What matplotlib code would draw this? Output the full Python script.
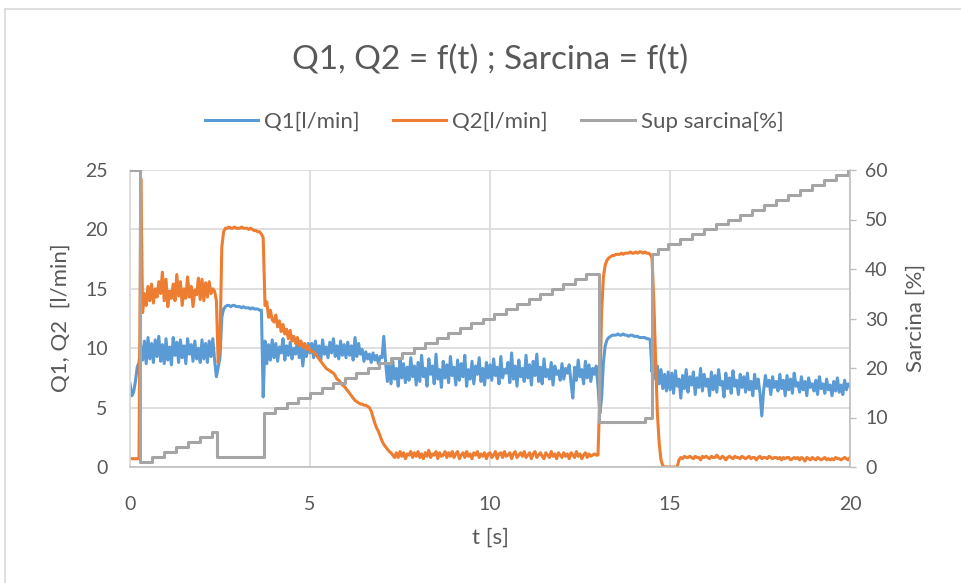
import numpy as np
import matplotlib as mpl
mpl.use("Agg")
import matplotlib.pyplot as plt
from matplotlib.lines import Line2D

mpl.rcParams.update({
    "font.family": ["Lato", "DejaVu Sans"],
    "font.size": 14,
    "text.color": "#595959",
    "axes.labelcolor": "#595959",
})

W, H = 961, 583

# --- data ----------------------------------------------------------------
# time grid of the flow signals: 0 .. 20 s, one sample every 0.05 s
t = np.linspace(0, 20, 401)

# Q1 [l/min], one row per second (20 samples)
q1 = [
    7.0, 6.0, 6.3, 7.2, 8.4, 8.8, 10.2, 9.0, 10.6, 8.7, 10.9, 9.1, 10.4, 8.8, 10.7, 9.3, 11.0, 8.9, 10.3, 8.7,
    10.8, 9.0, 10.1, 8.6, 10.9, 9.4, 10.5, 8.8, 10.7, 9.2, 10.2, 8.7, 10.8, 9.5, 10.3, 8.9, 10.6, 9.1, 10.0, 8.8,
    10.7, 9.1, 10.4, 8.8, 10.6, 9.3, 10.8, 9.0, 7.6, 8.4, 9.2, 12.6, 13.3, 13.5, 13.6, 13.6, 13.5, 13.6, 13.6, 13.5,
    13.5, 13.5, 13.4, 13.5, 13.4, 13.4, 13.4, 13.3, 13.4, 13.3, 13.3, 13.3, 13.2, 13.2, 5.9, 10.6, 8.7, 10.3, 9.0, 10.7,
    9.2, 10.4, 8.9, 10.1, 9.6, 10.8, 9.0, 10.2, 9.4, 10.5, 9.1, 10.0, 9.5, 10.6, 9.2, 10.3, 8.5, 10.1, 9.3, 10.4,
    9.6, 10.4, 9.2, 10.6, 9.4, 10.2, 9.0, 10.7, 9.5, 10.1, 9.2, 10.5, 9.6, 10.8, 9.3, 10.2, 9.1, 10.6, 9.4, 10.3,
    9.2, 10.5, 9.4, 10.2, 9.0, 10.9, 9.3, 10.4, 9.5, 9.9, 8.9, 9.7, 9.1, 9.5, 8.8, 9.6, 9.0, 9.4, 8.7, 9.3,
    9.2, 11.0, 8.8, 7.2, 8.6, 7.0, 8.9, 7.4, 8.3, 6.8, 9.0, 7.5, 8.7, 7.1, 8.4, 7.3, 9.2, 7.6, 8.5, 6.9,
    8.8, 7.2, 9.4, 7.6, 8.3, 6.8, 9.1, 7.8, 8.5, 7.0, 9.5, 7.4, 8.2, 6.7, 8.9, 7.5, 8.6, 7.1, 9.3, 7.7,
    8.4, 6.9, 9.0, 7.3, 8.7, 7.6, 9.4, 6.8, 8.2, 7.4, 8.9, 7.0, 8.5, 7.8, 9.2, 7.2, 8.3, 6.9, 8.8, 7.5,
    8.6, 7.3, 9.1, 7.7, 8.4, 7.0, 9.3, 7.5, 8.2, 7.9, 8.8, 7.1, 9.6, 7.4, 8.5, 6.8, 9.0, 7.6, 8.3, 7.2,
    9.4, 7.5, 8.6, 6.9, 8.9, 7.7, 9.5, 7.2, 8.4, 7.0, 9.1, 7.6, 8.2, 7.4, 8.8, 6.9, 8.5, 7.8, 8.1, 7.3,
    8.7, 7.4, 8.3, 7.9, 8.6, 7.1, 5.8, 8.4, 7.3, 9.0, 7.6, 8.2, 7.0, 8.9, 7.5, 8.6, 7.2, 8.3, 7.8, 8.5,
    6.8, 4.5, 5.8, 8.8, 10.2, 10.7, 10.9, 11.0, 11.1, 11.1, 11.1, 11.2, 11.1, 11.1, 11.2, 11.1, 11.1, 11.0, 11.1, 11.1,
    11.0, 11.0, 11.0, 10.9, 10.9, 10.9, 10.9, 10.8, 10.8, 10.7, 8.0, 9.8, 7.4, 8.5, 7.0, 8.2, 6.6, 7.8, 6.4, 8.0,
    6.5, 7.9, 6.2, 8.1, 6.8, 7.4, 5.8, 7.7, 6.6, 8.2, 6.3, 7.6, 6.9, 8.0, 6.1, 7.5, 6.7, 8.3, 6.4, 7.8,
    6.8, 7.4, 6.0, 8.0, 6.5, 7.7, 6.3, 8.2, 6.9, 7.2, 5.9, 7.9, 6.6, 7.5, 6.2, 8.1, 6.8, 7.3, 6.1, 7.8,
    6.7, 7.6, 6.3, 7.9, 6.5, 7.2, 6.0, 7.8, 6.6, 7.4, 6.2, 4.3, 6.4, 7.7, 6.8, 7.3, 6.1, 7.6, 6.7, 7.2,
    6.4, 7.8, 6.6, 7.3, 6.0, 7.7, 6.5, 7.4, 6.2, 7.9, 6.8, 7.1, 6.3, 7.6, 6.5, 7.2, 6.0, 7.5, 6.7, 7.0,
    6.4, 7.3, 6.1, 7.6, 6.6, 7.0, 6.2, 7.4, 6.5, 6.9, 6.0, 7.2, 6.4, 7.5, 6.3, 6.9, 6.1, 7.3, 6.5, 7.0,
    6.8,
]

# Q2 [l/min], same grid
q2 = [
    0.7, 0.7, 0.7, 0.7, 0.7, 0.7, 24.3, 13.0, 14.6, 13.6, 15.2, 14.0, 15.4, 13.8, 15.0, 14.3, 15.6, 14.6, 16.4, 14.0,
    15.8, 13.5, 14.8, 14.2, 15.4, 14.0, 16.2, 14.4, 15.6, 13.6, 15.0, 14.2, 16.0, 14.3, 15.2, 13.5, 14.9, 14.5, 15.9, 14.1,
    15.8, 14.0, 15.5, 14.3, 15.6, 14.6, 15.0, 14.8, 14.0, 8.8, 10.5, 18.5, 19.8, 20.1, 20.1, 20.2, 20.1, 20.1, 20.2, 20.1,
    20.1, 20.1, 20.2, 20.1, 20.1, 20.1, 20.0, 20.1, 20.0, 19.9, 19.9, 19.8, 19.8, 19.6, 19.3, 13.6, 13.9, 12.6, 13.2, 12.4,
    12.2, 12.8, 11.8, 12.3, 11.4, 12.0, 11.2, 11.6, 10.8, 11.5, 10.6, 11.0, 10.4, 10.9, 10.2, 10.6, 10.1, 10.4, 9.9, 10.2,
    9.8, 9.7, 9.7, 9.5, 9.3, 9.1, 8.9, 8.7, 8.5, 8.3, 8.2, 8.1, 8.0, 7.9, 7.7, 7.4, 7.3, 7.1, 6.9, 6.8,
    6.6, 6.4, 6.2, 6.0, 5.8, 5.6, 5.5, 5.4, 5.3, 5.3, 5.2, 5.2, 5.1, 5.0, 4.7, 4.2, 3.7, 3.3, 3.0, 2.6,
    2.2, 1.9, 1.7, 1.5, 1.3, 1.2, 1.0, 0.8, 1.2, 0.8, 1.3, 0.9, 1.2, 0.7, 1.1, 1.0, 1.3, 0.8, 1.2, 0.9,
    1.3, 0.8, 1.1, 0.7, 1.2, 0.9, 1.4, 0.8, 1.1, 1.0, 1.3, 0.7, 1.2, 0.9, 1.0, 1.3, 0.8, 1.2, 0.9, 1.3,
    0.8, 1.1, 1.3, 0.7, 1.0, 1.2, 0.8, 1.3, 0.9, 1.1, 0.7, 1.2, 1.0, 1.3, 0.8, 1.1, 0.9, 1.2, 0.7, 1.1,
    1.2, 0.8, 1.0, 1.3, 0.7, 1.1, 1.2, 0.8, 1.3, 0.9, 1.0, 1.2, 0.7, 1.1, 1.3, 0.8, 1.0, 1.2, 0.9, 1.3,
    0.8, 1.0, 1.2, 0.7, 1.1, 1.3, 0.8, 1.0, 1.2, 0.9, 0.7, 1.2, 1.0, 0.8, 1.3, 0.9, 1.1, 0.7, 1.2, 1.0,
    0.8, 1.2, 0.9, 1.1, 0.7, 1.2, 1.0, 0.8, 1.3, 0.9, 1.1, 0.7, 1.0, 1.2, 0.8, 1.1, 0.9, 1.0, 1.1, 1.0,
    1.0, 6.0, 13.0, 16.0, 17.0, 17.4, 17.6, 17.7, 17.8, 17.8, 17.9, 17.9, 17.9, 18.0, 17.9, 18.0, 18.0, 18.0, 18.1, 18.0,
    18.0, 18.1, 18.0, 18.1, 18.1, 18.0, 18.1, 18.0, 18.0, 17.9, 17.6, 14.0, 9.0, 4.5, 2.0, 0.6, 0.1, 0.0, 0.0, 0.0,
    0.0, 0.0, 0.0, 0.0, 0.0, 0.6, 0.8, 0.7, 0.9, 0.8, 0.8, 0.9, 0.8, 0.7, 0.9, 0.8, 0.8, 0.6, 0.9, 0.8,
    0.9, 0.8, 0.7, 0.9, 0.8, 0.8, 1.0, 0.8, 0.7, 0.9, 0.8, 0.6, 0.8, 0.9, 0.8, 0.7, 0.9, 0.8, 0.8, 0.7,
    0.9, 0.8, 0.7, 0.8, 0.9, 0.7, 0.8, 0.8, 0.6, 0.8, 0.9, 0.7, 0.8, 0.8, 0.7, 0.9, 0.8, 0.7, 0.8, 0.8,
    0.7, 0.8, 0.6, 0.8, 0.7, 0.8, 0.8, 0.6, 0.7, 0.8, 0.7, 0.8, 0.6, 0.8, 0.7, 0.5, 0.8, 0.7, 0.6, 0.8,
    0.7, 0.6, 0.8, 0.7, 0.6, 0.7, 0.8, 0.6, 0.7, 0.6, 0.7, 0.6, 0.8, 0.7, 0.7, 0.6, 0.7, 0.8, 0.7, 0.6,
    0.8,
]

# Sup sarcina [%]: step signal, value holds from each time until the next
sar_t = [0.0, 0.27, 0.62, 0.95, 1.28, 1.62, 1.95, 2.28, 2.42,
         3.72, 4.04, 4.36, 4.68, 5.00, 5.32, 5.64, 5.96, 6.28, 6.60, 6.92,
         7.24, 7.56, 7.88, 8.20, 8.52, 8.84, 9.16, 9.48, 9.80, 10.12,
         10.44, 10.76, 11.08, 11.40, 11.72, 12.04, 12.36, 12.68,
         13.02, 14.30,
         14.50, 14.68, 14.95, 15.28, 15.62, 15.95, 16.28, 16.62, 16.95,
         17.28, 17.62, 17.95, 18.28, 18.62, 18.95, 19.28, 19.62, 19.95, 20.0]
sar_v = [60, 1, 2, 3, 4, 5, 6, 7, 2,
         11, 12, 13, 14, 15, 16, 17, 18, 19, 20, 21,
         22, 23, 24, 25, 26, 27, 28, 29, 30, 31,
         32, 33, 34, 35, 36, 37, 38, 39,
         9, 10,
         43, 44, 45, 46, 47, 48, 49, 50, 51,
         52, 53, 54, 55, 56, 57, 58, 59, 60, 60]

C_Q1, C_Q2, C_SAR = "#5B9BD5", "#ED7D31", "#A5A5A5"
TXT, GRID, AXL = "#595959", "#D9D9D9", "#BFBFBF"


def fx(px):
    return px / W


def fy(py):
    return 1 - py / H


fig = plt.figure(figsize=(W / 100, H / 100), dpi=100)
ax = fig.add_axes([fx(130), fy(467), (850 - 130) / W, (467 - 170) / H])
ax2 = ax.twinx()
ax2.patch.set_visible(False)

l1, = ax.plot(t, q1, color=C_Q1, lw=2.2, label="Q1[l/min]")
l2, = ax.plot(t, q2, color=C_Q2, lw=2.2, label="Q2[l/min]")
l3, = ax2.step(sar_t, sar_v, where="post", color=C_SAR, lw=2.2, label="Sup sarcina[%]")

ax.set_xlim(0, 20); ax.set_ylim(0, 25); ax2.set_ylim(0, 60)
ax.set_xticks(range(0, 21, 5)); ax.set_yticks(range(0, 26, 5))
ax2.set_yticks(range(0, 61, 10))
ax.grid(True, color=GRID, lw=1.2); ax.set_axisbelow(True)

ax.tick_params(axis="both", length=0, labelcolor=TXT, labelsize=14)
ax.tick_params(axis="y", pad=16)
ax.tick_params(axis="x", pad=21)
ax2.tick_params(axis="y", length=4, width=1, color=AXL, labelcolor=TXT, labelsize=14, pad=7)

for s in ("top", "right"):
    ax.spines[s].set_visible(False)
for s in ("top", "left", "bottom"):
    ax2.spines[s].set_visible(False)
ax.spines["left"].set_color(GRID); ax.spines["left"].set_linewidth(1.2)
ax.spines["bottom"].set_color(AXL); ax.spines["bottom"].set_linewidth(1.2)
ax2.spines["right"].set_color(AXL); ax2.spines["right"].set_linewidth(1.2)

fig.text(fx(61), fy(318), "Q1, Q2  [l/min]", rotation=90, ha="center", va="center", fontsize=16, color=TXT)
fig.text(fx(916), fy(318), "Sarcina [%]", rotation=90, ha="center", va="center", fontsize=16, color=TXT)
fig.text(fx(490), fy(538), "t [s]", ha="center", va="center", fontsize=16, color=TXT)
fig.text(fx(490), fy(60), "Q1, Q2 = f(t) ; Sarcina = f(t)", ha="center", va="center", fontsize=24, color=TXT)

fig.legend([l1, l2, l3], [l1.get_label(), l2.get_label(), l3.get_label()],
           loc="center", bbox_to_anchor=(fx(494), fy(122)), ncol=3, frameon=False,
           fontsize=16, handlelength=2.4, handletextpad=0.27, columnspacing=1.5)

# chart-area border (only top and left edges fall inside the image)
fig.add_artist(Line2D([fx(5), fx(5)], [0, fy(9)], transform=fig.transFigure, color=GRID, lw=1.2))
fig.add_artist(Line2D([fx(5), 1], [fy(9), fy(9)], transform=fig.transFigure, color=GRID, lw=1.2))

fig.savefig("out.png", dpi=100)
